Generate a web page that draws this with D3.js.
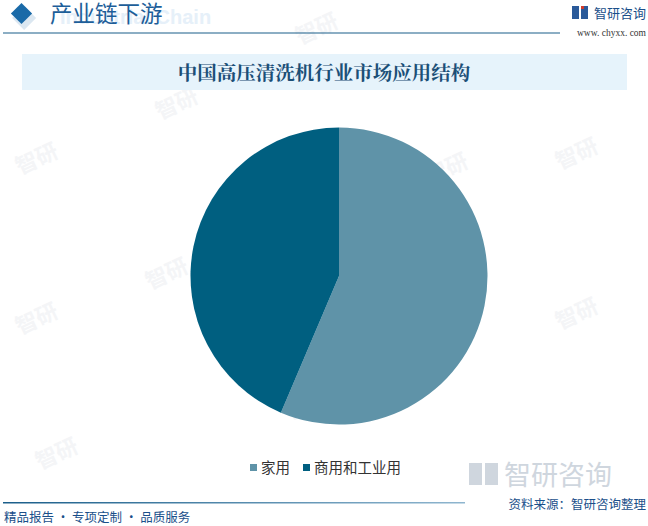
<!DOCTYPE html>
<html><head><meta charset="utf-8">
<script src="https://cdn.jsdelivr.net/npm/d3@7"></script>
<style>body{margin:0;background:#fff}svg{display:block;font-family:"Noto Sans CJK SC","Noto Sans",sans-serif}</style>
</head><body><svg id="c" width="648" height="526"></svg>
<script>
const categories = ["家用", "商用和工业用"];
const values = [56.4, 43.6];
const colors = ["#5f93a8", "#005f80"];
const title = "中国高压清洗机行业市场应用结构";
const header = "产业链下游";
const source = "资料来源：智研咨询整理";
const slogan = "精品报告 · 专项定制 · 品质服务";

const svg = d3.select("#c");

// faint watermarks
const wm = svg.append("g").attr("fill", "#f4f5f7").attr("font-weight", "bold");
[[20,175],[160,120],[300,45],[20,335],[150,290],[290,420],[440,340],[560,170],[560,330],[40,470],[430,185]].forEach(([x,y])=>{
  wm.append("text").attr("transform",`translate(${x},${y}) rotate(-25)`).attr("font-size",22).text("智研");
});

// header
const hg = svg.append("g");
hg.append("rect").attr("x",14).attr("y",2).attr("width",17).attr("height",17).attr("fill","#dbe7f1").attr("transform","rotate(45 22 11) translate(6,4)");
hg.append("rect").attr("x",14).attr("y",6).attr("width",15).attr("height",15).attr("fill","#1a6aa8").attr("transform","rotate(45 21.5 13.5)");
hg.append("text").attr("x",60).attr("y",24).attr("font-size",20).attr("font-weight","bold").attr("fill","#e6f0f9").attr("font-family","Liberation Sans, Arial").text("Industrial Chain");
hg.append("text").attr("x",50).attr("y",22).attr("font-size",22.5).attr("fill","#1d5e99").attr("font-family","Noto Sans CJK SC").text(header);
svg.append("line").attr("x1",3).attr("x2",560).attr("y1",33).attr("y2",33).attr("stroke","#1a5e8a").attr("stroke-width",1.2);

// top-right logo
const lg = svg.append("g");
lg.append("rect").attr("x",572).attr("y",6).attr("width",7).attr("height",13).attr("fill","#2a5a9a");
lg.append("rect").attr("x",581).attr("y",6).attr("width",7).attr("height",13).attr("fill","#2a5a9a");
lg.append("rect").attr("x",581).attr("y",6).attr("width",3).attr("height",3).attr("fill","#d23a2a");
lg.append("text").attr("x",594).attr("y",18).attr("font-size",13).attr("fill","#1a4f8a").text("智研咨询");
lg.append("text").attr("x",646).attr("y",36).attr("text-anchor","end").attr("font-size",9.5).attr("fill","#333").attr("font-family","Liberation Serif, serif").text("www. chyxx. com");

// title box
svg.append("rect").attr("x",22).attr("y",54).attr("width",605).attr("height",36).attr("fill","#e6f3fb");
svg.append("text").attr("x",324).attr("y",80).attr("text-anchor","middle").attr("font-size",19.5).attr("font-weight","bold").attr("fill","#1b4f77").attr("font-family","Noto Serif CJK SC, Noto Sans CJK SC").text(title);

// pie
const cx = 339, cy = 276, r = 148.5;
const pie = d3.pie().sort(null).value(d=>d)(values);
const arc = d3.arc().innerRadius(0).outerRadius(r);
svg.append("g").attr("transform",`translate(${cx},${cy})`)
  .selectAll("path").data(pie).join("path")
  .attr("d",arc).attr("fill",(d,i)=>colors[i]);

// legend
const leg = svg.append("g").attr("font-size",14.5).attr("fill","#333");
const legX = [250, 303];
categories.forEach((c,i)=>{
  leg.append("rect").attr("x",legX[i]).attr("y",464).attr("width",7).attr("height",7).attr("fill",colors[i]);
  leg.append("text").attr("x",legX[i]+11).attr("y",473).text(c);
});

// bottom big watermark logo
const bw = svg.append("g").attr("fill","#cfd6de");
bw.append("rect").attr("x",469).attr("y",463).attr("width",13).attr("height",22);
bw.append("rect").attr("x",485).attr("y",463).attr("width",13).attr("height",22);
bw.append("text").attr("x",504).attr("y",485).attr("font-size",27).text("智研咨询");

// bottom line and texts
const grad = svg.append("defs").append("linearGradient").attr("id","g1");
grad.append("stop").attr("offset","0%").attr("stop-color","#1a5e8a");
grad.append("stop").attr("offset","100%").attr("stop-color","#8fb6cf");
svg.append("rect").attr("x",3).attr("y",502).attr("width",462).attr("height",1.5).attr("fill","url(#g1)");
svg.append("text").attr("x",646).attr("y",509).attr("text-anchor","end").attr("font-size",12.5).attr("fill","#1a4f8a").text(source);
svg.append("text").attr("x",4).attr("y",522).attr("font-size",12.5).attr("fill","#1a4f8a").text(slogan);
</script></body></html>
